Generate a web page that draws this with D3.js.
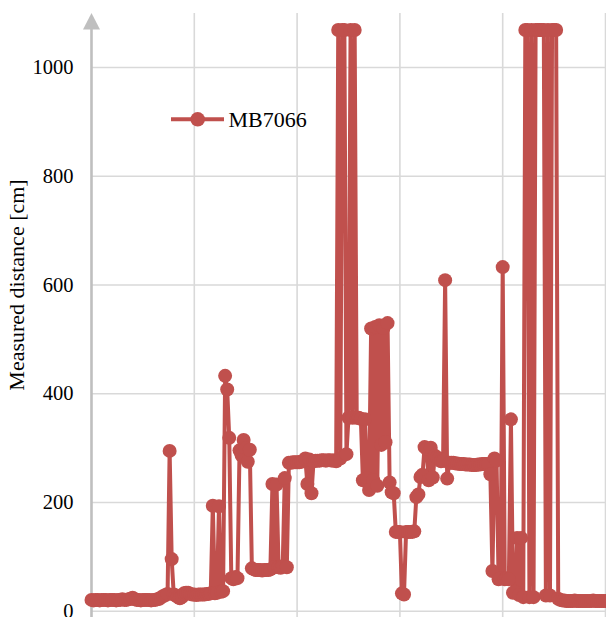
<!DOCTYPE html>
<html>
<head>
<meta charset="utf-8">
<script src="https://cdn.jsdelivr.net/npm/d3@7"></script>
<style>
  html, body { margin: 0; padding: 0; background: #fff; }
  svg { display: block; }
  svg text { font-family: "Liberation Serif", "Times New Roman", "DejaVu Serif", serif; }
</style>
</head>
<body>
<svg id="chart" width="606" height="617"></svg>
<script>
// ---- data ----
const seriesName = "MB7066";
const yTicks = [0, 200, 400, 600, 800, 1000];
const xGridSamples = [50, 100, 150, 200, 250];
const yTitle = "Measured distance [cm]";
// measured distance per sample (sample index = position in array)
const distance = [
  20,19,20,20,19,20,20,20,19,20, 20,20,19,20,20,21,20,20,21,22,
  24,21,20,20,19,20,20,20,20,19, 20,20,21,22,
  25,27,29,31,
  294,95,30,28,25,23,25,32,33,33,31,30,30,29,30,30,30,30,31,31,32,
  193,32,33,192,35,36,
  432,407,318,60,58,62,60,295,286,314,299,274,296,78,
  76,75,75,75,74,75,75,75,76,
  233,80,232,80,79,82,244,80,272,
  272,273,273,273,273,274,276,
  280,233,278,216,275,
  276,276,276,277,277,276,277,277,276,277,275,
  1068,280,1068,1068,288,355,1068,355,1068,355,355,353,240,352,244,222,
  519,240,522,230,525,305,520,310,529,236,218,216,145,145,145,32,30,
  145,145,145,145,146,209,214,246,250,301,298,240,300,245,285,282,280,275,276,608,243,272,
  272,272,271,271,270,270,270,269,269,269,268,268,268,269,269,270,270,270,270,
  251,73,280,276,58,60,632,58,60,58,352,33,35,134,29,134,25,
  1068,1068,25,1068,25,1068,1068,1068,1068,1068,28,1068,28,1068,1068,1068,22,20,
  19,19,18,18,18,18,19,18,18,18,18,18,18,18,18,19,18,18,18,18,18,18
];

// ---- layout ----
const svg = d3.select("#chart");
const red = "#C0504D";
const axisGray = "#BFBFBF";
const gridGray = "#D9D9D9";
const font = "'Liberation Serif', 'Times New Roman', serif";

const x = d3.scaleLinear().domain([0, 250]).range([91.5, 605.5]);
const y = d3.scaleLinear().domain([0, 1000]).range([610.75, 67]);
const plotTop = 13;

// horizontal gridlines + tick labels
const yAxis = d3.axisLeft(y).tickValues(yTicks).tickSize(-(606 - 91.5)).tickPadding(18)
  .tickFormat(d3.format("d"));
const gy = svg.append("g").attr("transform", "translate(91.5,0)").call(yAxis);
gy.attr("font-family", null);
gy.select(".domain").remove();
gy.selectAll(".tick line").attr("stroke", gridGray).attr("stroke-width", 1.6);
gy.selectAll(".tick text")
  .attr("fill", "#000").style("font-family", font).style("font-size", "20.5px");

// vertical gridlines
svg.append("g").selectAll("line").data(xGridSamples).join("line")
  .attr("x1", d => x(d)).attr("x2", d => x(d))
  .attr("y1", plotTop).attr("y2", 617)
  .attr("stroke", gridGray).attr("stroke-width", 1.6);

// y axis line with arrow
svg.append("line")
  .attr("x1", x(0)).attr("x2", x(0)).attr("y1", 26).attr("y2", 617)
  .attr("stroke", axisGray).attr("stroke-width", 2.6);
svg.append("path")
  .attr("d", `M${x(0)},13 L${x(0) - 8.5},29.5 L${x(0) + 8.5},29.5 Z`)
  .attr("fill", axisGray);

// y axis title
svg.append("text")
  .attr("transform", `translate(24,285) rotate(-90)`)
  .attr("text-anchor", "middle")
  .style("font-family", font).style("font-size", "22px")
  .attr("fill", "#000")
  .text(yTitle);

// series line
const line = d3.line().x((d, i) => x(i)).y(d => y(d));
svg.append("path")
  .datum(distance)
  .attr("d", line)
  .attr("fill", "none")
  .attr("stroke", red)
  .attr("stroke-width", 4)
  .attr("stroke-linejoin", "round");

svg.append("g").selectAll("circle").data(distance).join("circle")
  .attr("cx", (d, i) => x(i)).attr("cy", d => y(d))
  .attr("r", 7).attr("fill", red);

// legend
const lg = svg.append("g").attr("transform", "translate(171,119.3)");
lg.append("line").attr("x1", 0).attr("x2", 53).attr("y1", 0).attr("y2", 0)
  .attr("stroke", red).attr("stroke-width", 4);
lg.append("circle").attr("cx", 26.7).attr("cy", 0).attr("r", 7.3).attr("fill", red);
lg.append("text").attr("x", 57.5).attr("y", 7.8)
  .style("font-family", font).style("font-size", "22px").attr("fill", "#000")
  .text(seriesName);
</script>
</body>
</html>
